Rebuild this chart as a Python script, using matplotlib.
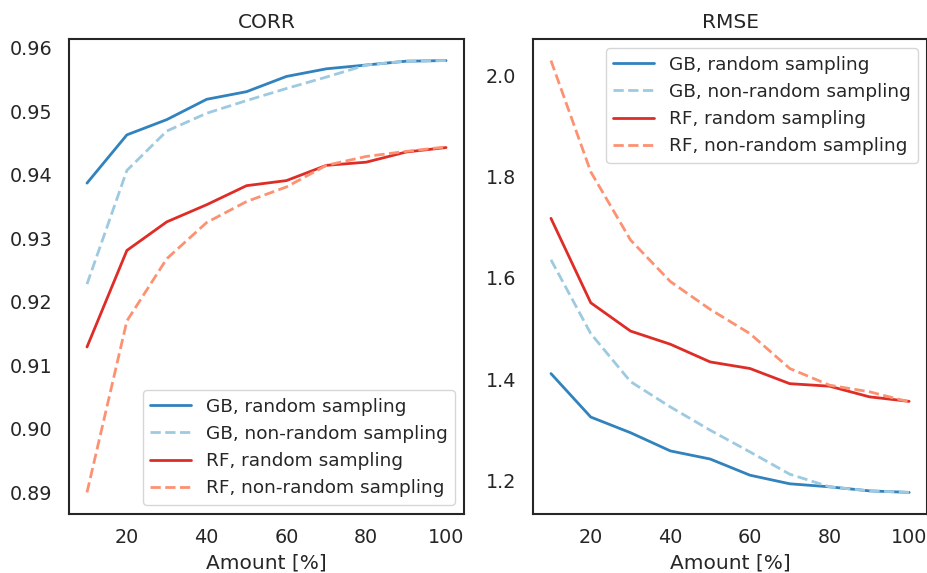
import matplotlib
matplotlib.use("Agg")
import matplotlib.pyplot as plt
import seaborn as sns

sns.set_style("white")
plt.rcParams['font.family'] = ['DejaVu Sans']

amount = [10, 20, 30, 40, 50, 60, 70, 80, 90, 100]

corr_gb_random = [0.9387, 0.9463, 0.9487, 0.9519, 0.9531, 0.9555, 0.9567, 0.9573, 0.9579, 0.9580]
corr_gb_nonrandom = [0.9228, 0.9407, 0.9469, 0.9497, 0.9517, 0.9536, 0.9554, 0.9573, 0.9579, 0.9580]
corr_rf_random = [0.9129, 0.9281, 0.9326, 0.9353, 0.9383, 0.9391, 0.9415, 0.9420, 0.9436, 0.9443]
corr_rf_nonrandom = [0.8900, 0.9170, 0.9268, 0.9325, 0.9358, 0.9381, 0.9415, 0.9429, 0.9437, 0.9444]

rmse_gb_random = [1.411, 1.325, 1.294, 1.258, 1.242, 1.210, 1.193, 1.187, 1.179, 1.176]
rmse_gb_nonrandom = [1.636, 1.490, 1.395, 1.345, 1.299, 1.256, 1.212, 1.187, 1.179, 1.176]
rmse_rf_random = [1.718, 1.551, 1.495, 1.469, 1.434, 1.421, 1.391, 1.386, 1.365, 1.356]
rmse_rf_nonrandom = [2.030, 1.810, 1.675, 1.593, 1.538, 1.490, 1.421, 1.388, 1.375, 1.355]

labels = ["GB, random sampling", "GB, non-random sampling",
          "RF, random sampling", "RF, non-random sampling"]
colors = ["#3182bd", "#9ecae1", "#de2d26", "#fc9272"]
styles = ["-", "--", "-", "--"]

fig = plt.figure(figsize=(9.28, 5.73), dpi=100)
ax1 = fig.add_axes([0.0744, 0.103, 0.4256, 0.829])
ax2 = fig.add_axes([0.5744, 0.103, 0.4246, 0.829])

for ax, series, title, loc in [
    (ax1, [corr_gb_random, corr_gb_nonrandom, corr_rf_random, corr_rf_nonrandom], "CORR", "lower right"),
    (ax2, [rmse_gb_random, rmse_gb_nonrandom, rmse_rf_random, rmse_rf_nonrandom], "RMSE", "upper right"),
]:
    for vals, lab, c, ls in zip(series, labels, colors, styles):
        ax.plot(amount, vals, ls, color=c, label=lab, lw=2)
    ax.set_title(title, fontsize=14.5, color="#262626", pad=8)
    ax.set_xlabel("Amount [%]", fontsize=14.5, color="#262626", labelpad=5)
    ax.set_xticks([20, 40, 60, 80, 100])
    ax.tick_params(labelsize=13.8, colors="#262626", length=0)
    ax.tick_params(axis="y", pad=12)
    ax.tick_params(axis="x", pad=10)
    for s in ax.spines.values():
        s.set_color("#262626")
        s.set_linewidth(1.5)
    ax.legend(loc=loc, fontsize=13.3, handlelength=2.2)

ax1.set_yticks([0.89, 0.90, 0.91, 0.92, 0.93, 0.94, 0.95, 0.96])
ax1.set_yticklabels(["0.89", "0.90", "0.91", "0.92", "0.93", "0.94", "0.95", "0.96"])
ax2.set_yticks([1.2, 1.4, 1.6, 1.8, 2.0])

fig.savefig("out.png", dpi=100)
